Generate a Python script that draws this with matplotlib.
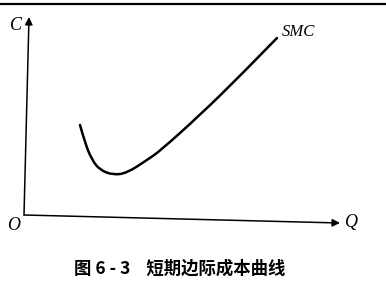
import matplotlib
matplotlib.use("Agg")
import matplotlib.pyplot as plt
from matplotlib.path import Path
from matplotlib.patches import PathPatch

# SMC curve (Q, C), origin at the axes corner
q_vals = [56, 61, 68, 76, 89, 103, 123, 136, 176, 216, 253]
c_vals = [90, 72, 55, 45, 40, 42, 55, 64, 100, 139, 177]

curve_label = "SMC"
x_label = "Q"
y_label = "C"
origin_label = "O"
caption = "图 6 - 3    短期边际成本曲线"

fig = plt.figure(figsize=(3.86, 2.93), dpi=100)
ax = fig.add_axes([0, 0, 1, 1])
ax.set_xlim(-24, 362)
ax.set_ylim(-78, 215)
ax.axis("off")

# top border of the scanned page
fig.add_artist(plt.Line2D([0, 1], [0.986, 0.986], color="black", lw=1.6))

# axes (slightly tilted, as in the scan)
arrow = dict(arrowstyle="-|>", color="black", lw=1.1, mutation_scale=11,
             shrinkA=0, shrinkB=0)
ax.annotate("", xy=(5, 198), xytext=(0, 0), arrowprops=arrow)
ax.annotate("", xy=(316, -8), xytext=(0, 0), arrowprops=arrow)

# smooth the curve: quadratic segments between midpoints of the read points
pts = list(zip(q_vals, c_vals))
verts = [pts[0]]
codes = [Path.MOVETO]
for i in range(1, len(pts) - 1):
    mid = ((pts[i][0] + pts[i + 1][0]) / 2, (pts[i][1] + pts[i + 1][1]) / 2)
    if i == len(pts) - 2:
        mid = pts[-1]
    verts += [pts[i], mid]
    codes += [Path.CURVE3, Path.CURVE3]
ax.add_patch(PathPatch(Path(verts, codes), fill=False, edgecolor="black",
                       lw=1.8, capstyle="round", joinstyle="round"))

serif = dict(family="Liberation Serif", style="italic", fontsize=13)
ax.text(-2, 190, y_label, ha="right", va="center", **serif)
ax.text(-4, -10, origin_label, ha="right", va="center", **serif)
ax.text(321, -8, x_label, ha="left", va="center", **serif)
ax.text(258, 183, curve_label, ha="left", va="center",
        family="Liberation Serif", style="italic", fontsize=12)

fig.text(0.465, 0.085, caption, ha="center", va="center", fontsize=12.5,
         fontweight="bold", family=["Noto Sans CJK SC", "DejaVu Sans"])

fig.savefig("out.png", dpi=100, facecolor="white")
